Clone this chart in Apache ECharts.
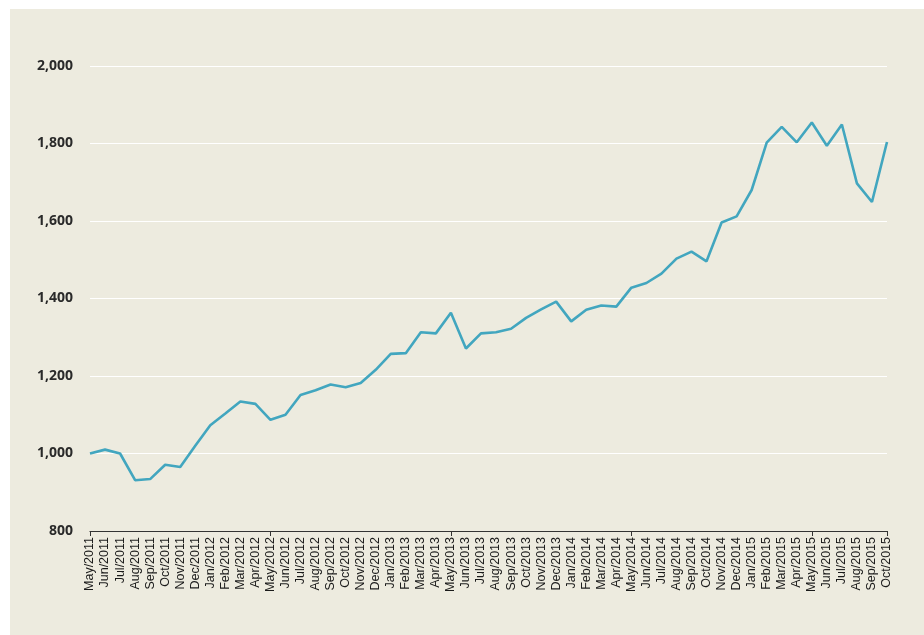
<!DOCTYPE html>
<html>
<head>
<meta charset="utf-8">
<script src="https://cdn.jsdelivr.net/npm/echarts@6/dist/echarts.min.js"></script>
<style>
html,body{margin:0;padding:0;background:#ffffff;}
#chart{width:924px;height:635px;}
</style>
</head>
<body>
<div id="chart"></div>
<script>
const categories = [
  "May/2011","Jun/2011","Jul/2011","Aug/2011","Sep/2011","Oct/2011","Nov/2011","Dec/2011",
  "Jan/2012","Feb/2012","Mar/2012","Apr/2012","May/2012","Jun/2012","Jul/2012","Aug/2012","Sep/2012","Oct/2012","Nov/2012","Dec/2012",
  "Jan/2013","Feb/2013","Mar/2013","Apr/2013","May/2013","Jun/2013","Jul/2013","Aug/2013","Sep/2013","Oct/2013","Nov/2013","Dec/2013",
  "Jan/2014","Feb/2014","Mar/2014","Apr/2014","May/2014","Jun/2014","Jul/2014","Aug/2014","Sep/2014","Oct/2014","Nov/2014","Dec/2014",
  "Jan/2015","Feb/2015","Mar/2015","Apr/2015","May/2015","Jun/2015","Jul/2015","Aug/2015","Sep/2015","Oct/2015"
];
const values = [
  1000, 1010, 1000, 931, 934, 971, 965, 1020,
  1073, 1103, 1134, 1128, 1087, 1100, 1151, 1163, 1178, 1171, 1182, 1216,
  1257, 1259, 1313, 1310, 1363, 1271, 1310, 1313, 1322, 1350, 1372, 1392,
  1341, 1371, 1382, 1379, 1428, 1440, 1464, 1503, 1521, 1496, 1596, 1612,
  1680, 1802, 1843, 1803, 1854, 1794, 1849, 1697, 1649, 1804
];
const yMin = 800, yMax = 2000, yStep = 200;

const chart = echarts.init(document.getElementById('chart'), null, {renderer: 'canvas'});
chart.setOption({
  animation: false,
  backgroundColor: '#ffffff',
  graphic: [{
    type: 'rect', left: 10, top: 9, z: -10,
    shape: {width: 914, height: 626},
    style: {fill: '#EDEBDF'}
  }],
  grid: {left: 90, right: 37, top: 66, bottom: 104},
  xAxis: {
    type: 'category',
    data: categories,
    boundaryGap: false,
    axisLine: {lineStyle: {color: '#333333', width: 1.2}},
    axisTick: {show: true, interval: 11, length: 5, lineStyle: {color: '#333333'}},
    axisLabel: {
      interval: 0, rotate: 90, margin: 6,
      fontFamily: 'Liberation Sans, Arial, sans-serif', fontSize: 12.5, color: '#1a1a1a'
    },
    splitLine: {show: false}
  },
  yAxis: {
    type: 'value',
    min: yMin, max: yMax, interval: yStep,
    axisLine: {show: false},
    axisTick: {show: false},
    axisLabel: {
      margin: 17,
      fontFamily: 'Open Sans, Noto Sans, sans-serif', fontWeight: 'bold', fontSize: 14, color: '#2a2a2a',
      formatter: v => v.toLocaleString('en-US')
    },
    splitLine: {lineStyle: {color: '#ffffff', width: 1.2}}
  },
  series: [{
    type: 'line',
    data: values,
    symbol: 'none',
    lineStyle: {color: '#42A6BF', width: 2.6},
    z: 5
  }]
});
</script>
</body>
</html>
